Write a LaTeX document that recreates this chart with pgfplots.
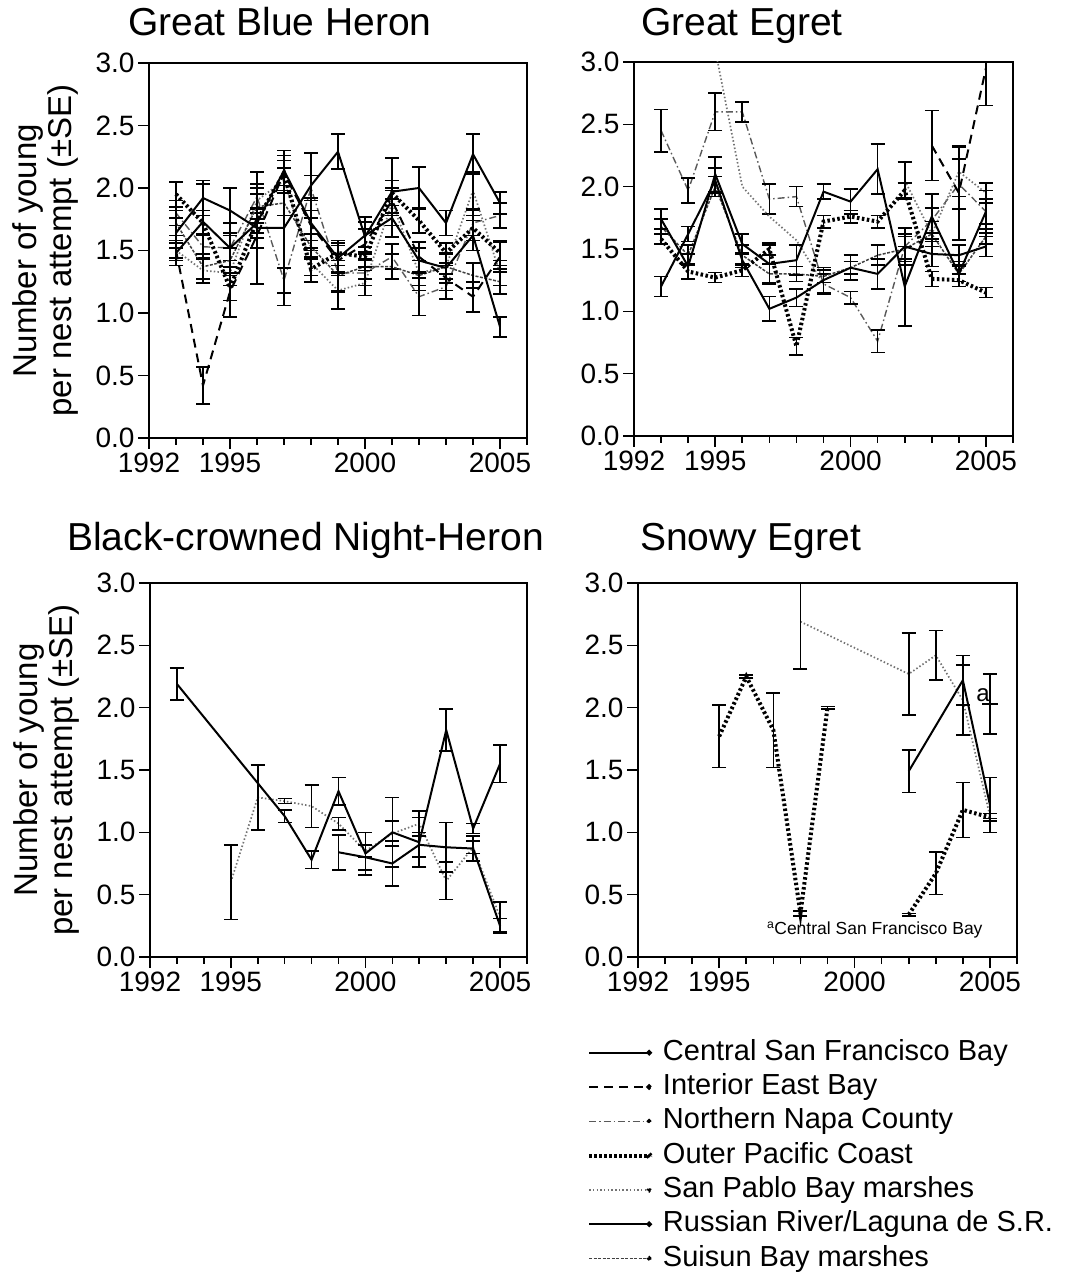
\documentclass[border=0pt]{standalone}
\usepackage{fontspec}
\setmainfont{Liberation Sans}
\usepackage{pgfplots}
\usepackage{pgfplotstable}
\pgfplotsset{compat=1.18}

\tikzset{
  csf/.style={black, line width=2pt, solid},
  ieb/.style={black, line width=2pt, dash pattern=on 9pt off 6pt},
  nap/.style={black!65, line width=1.4pt, dash pattern=on 7pt off 3pt on 1.5pt off 3pt},
  opc/.style={black, line width=4pt, dash pattern=on 2.5pt off 2.5pt},
  spb/.style={black!55, line width=1.7pt, dash pattern=on 1.5pt off 2.2pt},
  rr/.style={black, line width=2pt, solid},
  sui/.style={black!75, line width=1.5pt, dash pattern=on 3pt off 1.5pt},
}
\pgfplotsset{
  errb/.style={error bars/y dir=both, error bars/y explicit,
     error bars/error bar style={solid, black, line width=1.6pt},
     error bars/error mark options={solid, black, line width=1.6pt, mark size=7pt, rotate=90}},
  panel/.style={scale only axis, xmin=1992, xmax=2006, ymin=0, ymax=3,
     xtick={1992,1995,2000,2005},
     minor xtick={1993,1994,1996,1997,1998,1999,2001,2002,2003,2004,2006},
     ytick={0,0.5,1,1.5,2,2.5,3},
     tick pos=left, tick align=outside,
     major tick length=11pt, minor tick length=7pt,
     every tick/.style={black, line width=1.6pt},
     axis line style={line width=1.8pt},
     /pgf/number format/assume math mode=true,
     x tick label style={/pgf/number format/1000 sep={}},
     y tick label style={/pgf/number format/.cd, fixed, fixed zerofill, precision=1},
     tick label style={font=\fontsize{28}{30}\selectfont},
     title style={font=\fontsize{39}{42}\selectfont, anchor=base west, inner sep=0pt},
     ylabel style={font=\fontsize{33}{35}\selectfont, align=center, inner sep=0pt,
        at={(axis description cs:-0.186,0.5)}, anchor=south},
     unbounded coords=jump,
  },
}

% ---------------- Great Blue Heron ----------------
\pgfplotstableread{
x y e
1993 1.64 0.12
1994 1.92 0.14
1995 1.82 0.18
1996 1.68 0.45
1997 1.68 0.62
1998 2.02 0.26
1999 2.29 0.14
2000 1.61 0.12
2001 1.97 0.27
2002 2.00 0.17
2003 1.72 0.10
2004 2.27 0.16
2005 1.88 0.09
}\gbhcsf
\pgfplotstableread{
x y e
1993 1.48 0.10
1994 1.73 0.30
1995 1.52 0.20
1996 1.72 0.12
1997 2.14 0.12
1998 1.72 0.20
1999 1.44 0.12
2000 1.62 0.15
2001 1.76 0.15
2002 1.42 0.10
2003 1.36 0.12
2004 1.62 0.12
2005 0.89 0.08
}\gbhrr
\pgfplotstableread{
x y e
1993 1.95 0.10
1994 1.72 0.10
1995 1.20 0.10
1996 1.74 0.10
1997 2.12 0.10
1998 1.35 0.10
1999 1.48 0.10
2000 1.45 0.08
2001 1.96 0.10
2002 1.74 0.10
2003 1.48 0.08
2004 1.68 0.10
2005 1.48 0.10
}\gbhopc
\pgfplotstableread{
x y e
1993 1.50 0.06
1994 0.42 0.15
1995 1.17 0.20
1996 1.62 0.10
1997 2.12 0.10
1998 1.70 0.12
1999 1.42 0.12
2000 1.55 0.12
2001 1.90 0.10
2002 1.45 0.12
2003 1.28 0.10
2004 1.13 0.12
2005 1.45 0.12
}\gbhieb
\pgfplotstableread{
x y e
1993 1.80 0.10
1994 1.53 0.10
1995 1.52 0.10
1996 1.93 0.10
1997 1.26 0.10
1998 2.00 0.10
1999 1.32 0.15
2000 1.32 0.10
2001 1.45 0.10
2002 1.13 0.15
2003 1.21 0.10
2004 1.72 0.10
2005 1.78 0.10
}\gbhnap
\pgfplotstableread{
x y e
1993 1.50 0.08
1994 1.34 0.10
1995 1.32 0.10
1996 1.90 0.10
1997 2.06 0.10
1998 1.40 0.10
1999 1.18 0.15
2000 1.24 0.10
2001 1.88 0.10
2002 1.32 0.10
2003 1.37 0.10
2004 1.98 0.15
2005 1.32 0.10
}\gbhspb
\pgfplotstableread{
x y e
1993 1.72 0.10
1994 1.37 0.10
1995 1.42 0.10
1996 1.85 0.10
1997 1.88 0.10
1998 1.53 0.10
1999 1.30 0.12
2000 1.37 0.10
2001 1.37 0.10
2002 1.30 0.12
2003 1.37 0.10
2004 1.30 0.10
2005 1.25 0.10
}\gbhsui

% ---------------- Great Egret ----------------
\pgfplotstableread{
x y e
1993 1.74 0.08
1994 1.36 0.10
1995 2.10 0.14
1996 1.54 0.08
1997 1.38 0.15
1998 1.41 0.12
1999 1.96 0.06
2000 1.88 0.10
2001 2.14 0.20
2002 1.20 0.32
2003 1.76 0.18
2004 1.30 0.10
2005 1.80 0.17
}\gecsf
\pgfplotstableread{
x y e
1993 1.20 0.08
1994 1.62 0.06
1995 2.05 0.10
1996 1.41 0.06
1997 1.02 0.10
1998 1.11 0.07
1999 1.25 0.10
2000 1.35 0.10
2001 1.30 0.12
2002 1.52 0.15
2003 1.46 0.10
2004 1.45 0.08
2005 1.52 0.08
}\gerr
\pgfplotstableread{
x y e
1993 1.58 0.04
1994 1.32 0.06
1995 1.27 0.04
1996 1.33 0.05
1997 1.50 0.05
1998 0.72 0.07
1999 1.72 0.05
2000 1.76 0.05
2001 1.72 0.05
2002 1.97 0.06
2003 1.26 0.06
2004 1.25 0.05
2005 1.15 0.04
}\geopc
\pgfplotstableread{
x y e
1993 2.45 0.17
1994 1.97 0.10
1995 2.60 0.15
1996 2.60 0.08
1997 1.90 0.12
1998 1.92 0.08
1999 1.22 0.08
2000 1.11 0.05
2001 0.76 0.09
2002 1.52 0.10
2003 1.73 0.10
2004 2.02 0.20
2005 1.80 0.10
}\genap
\pgfplotstableread{
x y
1995 3.10
1996 2.00
1997 1.76
1998 1.57
1999 1.22
}\gespba
\pgfplotstableread{
x y e
2002 2.05 0.15
2003 1.62 0.10
2004 2.12 0.20
2005 1.95 0.08
}\gespbb
\pgfplotstableread{
x y e
2003 2.33 0.28
2004 1.95 0.38
2005 2.95 0.30
}\geieb
\pgfplotstableread{
x y e
1993 1.68 0.06
1994 1.45 0.08
1995 2.00 0.08
1996 1.45 0.08
1997 1.30 0.08
1998 1.30 0.06
1999 1.28 0.05
2000 1.35 0.05
2001 1.45 0.08
2002 1.50 0.10
2003 1.62 0.10
2004 1.30 0.06
2005 1.60 0.06
}\gesui

% ---------------- Black-crowned Night-Heron ----------------
\pgfplotstableread{
x y e
1993 2.19 0.13
1997 1.13 0.05
1998 0.78 0.07
1999 1.33 0.11
2000 0.83 0.17
2001 1.00 0.28
2002 0.92 0.20
2003 1.82 0.17
2004 1.03 0.04
2005 1.55 0.15
}\bncsf
\pgfplotstableread{
x y e
1999 0.84 0.14
2000 0.80 0.10
2001 0.75 0.18
2002 0.90 0.10
2003 0.88 0.20
2004 0.87 0.10
2005 0.25 0.06
}\bnrr
\pgfplotstableread{
x y e
1995 0.60 0.30
1996 1.28 0.26
1997 1.25 0.02
1998 1.21 0.17
1999 1.07 0.05
2000 0.85 0.05
2001 0.99 0.10
2002 1.07 0.10
2003 0.61 0.15
2004 0.88 0.05
2005 0.32 0.12
}\bnspb

% ---------------- Snowy Egret ----------------
\pgfplotstableread{
x y e
1995 1.77 0.25
1996 2.25 0.01
1997 1.82 0.30
1998 0.35 0.02
1999 2.00 0.01
2000 nan nan
2002 0.34 0.01
2003 0.67 0.17
2004 1.18 0.22
2005 1.12 0.03
}\seopc
\pgfplotstableread{
x y e
1998 2.69 0.38
2002 2.27 0.33
2003 2.42 0.20
2004 2.06 0.28
2005 1.13 0.02
}\sespb
\pgfplotstableread{
x y e
2002 1.49 0.17
2004 2.22 0.20
2005 1.22 0.22
}\serr
\pgfplotstableread{
x y e
2005 2.03 0.24
}\secsf

\begin{document}
\begin{tikzpicture}
\useasboundingbox (0,0) rectangle (1067pt,1274pt);

% Great Blue Heron
\begin{axis}[panel, at={(149pt,836pt)}, anchor=south west, width=378pt, height=375pt,
  title={Great Blue Heron}, title style={at={(axis description cs:-0.056,1.058)}},
  ylabel={Number of young\\per nest attempt (±SE)}]
\addplot[nap, errb] table[x=x,y=y,y error=e]{\gbhnap};
\addplot[spb, errb] table[x=x,y=y,y error=e]{\gbhspb};
\addplot[sui, errb] table[x=x,y=y,y error=e]{\gbhsui};
\addplot[ieb, errb] table[x=x,y=y,y error=e]{\gbhieb};
\addplot[opc, errb] table[x=x,y=y,y error=e]{\gbhopc};
\addplot[rr, errb] table[x=x,y=y,y error=e]{\gbhrr};
\addplot[csf, errb] table[x=x,y=y,y error=e]{\gbhcsf};
\end{axis}

% Great Egret
\begin{axis}[panel, at={(634pt,838pt)}, anchor=south west, width=379pt, height=374pt,
  title={Great Egret}, title style={at={(axis description cs:0.018,1.054)}}]
\addplot[nap, errb] table[x=x,y=y,y error=e]{\genap};
\addplot[spb] table[x=x,y=y]{\gespba};
\addplot[spb, errb] table[x=x,y=y,y error=e]{\gespbb};
\addplot[sui, errb] table[x=x,y=y,y error=e]{\gesui};
\addplot[ieb, errb] table[x=x,y=y,y error=e]{\geieb};
\addplot[opc, errb] table[x=x,y=y,y error=e]{\geopc};
\addplot[rr, errb] table[x=x,y=y,y error=e]{\gerr};
\addplot[csf, errb] table[x=x,y=y,y error=e]{\gecsf};
\end{axis}

% Black-crowned Night-Heron
\begin{axis}[panel, at={(150pt,317pt)}, anchor=south west, width=377pt, height=374pt,
  title={Black-crowned Night-Heron}, title style={at={(axis description cs:-0.22,1.072)}},
  ylabel={Number of young\\per nest attempt (±SE)}]
\addplot[spb, errb] table[x=x,y=y,y error=e]{\bnspb};
\addplot[rr, errb] table[x=x,y=y,y error=e]{\bnrr};
\addplot[csf, errb] table[x=x,y=y,y error=e]{\bncsf};
\end{axis}

% Snowy Egret
\begin{axis}[panel, at={(638pt,317pt)}, anchor=south west, width=379pt, height=374pt,
  title={Snowy Egret}, title style={at={(axis description cs:0.005,1.072)}},
  legend style={at={(rel axis cs:-0.1346,-0.2166)}, anchor=north west, draw=none, fill=none,
     inner sep=0pt, font=\fontsize{29}{31}\selectfont, row sep=5.3pt, column sep=9pt,
     nodes={inner sep=1pt, text height=21pt, text depth=6pt}},
  legend cell align=left,
  legend image code/.code={\draw[#1] (0pt,0pt) -- (60pt,0pt); \fill[black] (60pt,0pt) circle (1.8pt);}]
\addplot[spb, errb, forget plot] table[x=x,y=y,y error=e]{\sespb};
\addplot[opc, errb, forget plot] table[x=x,y=y,y error=e]{\seopc};
\addplot[rr, errb, forget plot] table[x=x,y=y,y error=e]{\serr};
\addplot[only marks, mark=-, mark size=8pt, mark options={solid, line width=1.8pt}, errb, forget plot]
  table[x=x,y=y,y error=e]{\secsf};
\node[anchor=base west, inner sep=0pt, font=\fontsize{24}{26}\selectfont] at (rel axis cs:0.892,0.682) {a};
\node[anchor=base west, inner sep=0pt, font=\fontsize{17.5}{19}\selectfont] at (rel axis cs:0.34,0.059) {\textsuperscript{a}Central San Francisco Bay};
\addlegendimage{csf}\addlegendentry{Central San Francisco Bay}
\addlegendimage{ieb}\addlegendentry{Interior East Bay}
\addlegendimage{nap}\addlegendentry{Northern Napa County}
\addlegendimage{opc}\addlegendentry{Outer Pacific Coast}
\addlegendimage{spb}\addlegendentry{San Pablo Bay marshes}
\addlegendimage{rr}\addlegendentry{Russian River/Laguna de S.R.}
\addlegendimage{sui}\addlegendentry{Suisun Bay marshes}
\end{axis}
\end{tikzpicture}
\end{document}
